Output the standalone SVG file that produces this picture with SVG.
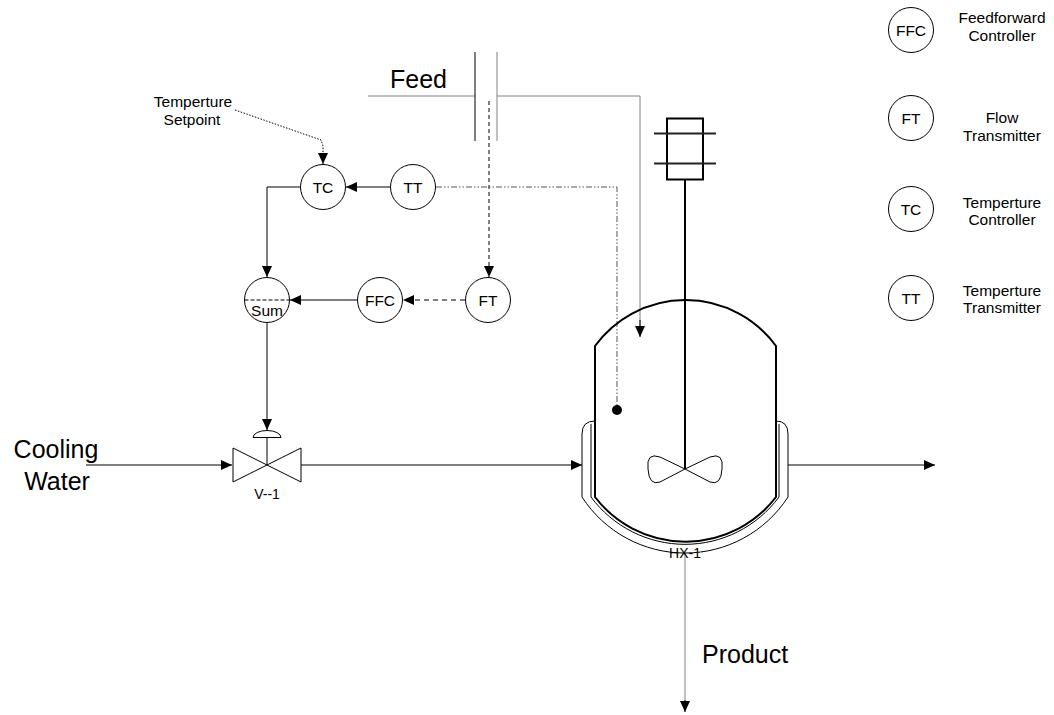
<svg xmlns="http://www.w3.org/2000/svg" width="1054" height="715" viewBox="0 0 1054 715">
<defs>
<marker id="ah" markerUnits="userSpaceOnUse" markerWidth="12" markerHeight="10" refX="11" refY="5" orient="auto">
<path d="M0,0 L11,5 L0,10 Z" fill="#000"/>
</marker>
<style>
text{font-family:"Liberation Sans",Arial,sans-serif;fill:#000}
.lbl{font-size:15.5px;text-anchor:middle}
.big{font-size:25px}
.inst{fill:#fff;stroke:#000;stroke-width:1}
.ln{fill:none;stroke:#000;stroke-width:1}
.gray{fill:none;stroke:#808080;stroke-width:1}
.thick{fill:none;stroke:#000;stroke-width:2}
</style>
</defs>
<rect width="1054" height="715" fill="#fff"/>

<g id="connectors">
<!-- Feed pipe -->
<line class="gray" x1="368" y1="96" x2="475" y2="96"/>
<line class="ln" x1="475" y1="52" x2="475" y2="141"/>
<line class="gray" x1="497" y1="52" x2="497" y2="141"/>
<polyline class="gray" points="497,96 640,96 640,326"/>
<line class="ln" x1="640" y1="320" x2="640" y2="337" marker-end="url(#ah)"/>
<!-- Feed flow dashed signal to FT -->
<line class="ln" x1="489" y1="101" x2="489" y2="277" stroke-dasharray="4,3" marker-end="url(#ah)"/>
<!-- FT to FFC -->
<line class="ln" x1="465" y1="300" x2="403" y2="300" stroke-dasharray="5,4" marker-end="url(#ah)"/>
<!-- FFC to Sum -->
<line class="ln" x1="357" y1="300" x2="290" y2="300" marker-end="url(#ah)"/>
<!-- TT to TC -->
<line class="ln" x1="390" y1="187" x2="346" y2="187" marker-end="url(#ah)"/>
<!-- TC to Sum -->
<polyline class="ln" points="300,187 267,187 267,277" marker-end="url(#ah)"/>
<!-- Sum to valve -->
<line class="ln" x1="267" y1="323" x2="267" y2="430" marker-end="url(#ah)"/>
<!-- Setpoint dotted -->
<polyline class="ln" points="235,110 321,140 323,146 323,164" stroke-dasharray="1.5,1.5" marker-end="url(#ah)"/>
<!-- TT dash-dot to reactor -->
<polyline fill="none" stroke="#555" stroke-width="1" points="436,187 617,187 617,410" stroke-dasharray="6,2,1.5,2,1.5,2"/>
<circle cx="617" cy="410" r="5" fill="#000"/>
<!-- Cooling water in -->
<line class="ln" x1="86" y1="465" x2="232" y2="465" marker-end="url(#ah)"/>
<!-- valve to jacket -->
<line class="ln" x1="301" y1="465" x2="582" y2="465" marker-end="url(#ah)"/>
<!-- jacket out -->
<line class="ln" x1="788" y1="465" x2="935" y2="465" marker-end="url(#ah)"/>
<!-- product -->
<line class="gray" x1="685" y1="553" x2="685" y2="705"/>
<line class="ln" x1="685" y1="700" x2="685" y2="712" marker-end="url(#ah)"/>
</g>

<g id="TC">
<circle class="inst" cx="323" cy="187" r="22.5"/>
<text class="lbl" x="323" y="192.5">TC</text>
</g>
<g id="TT">
<circle class="inst" cx="413" cy="187" r="22.5"/>
<text class="lbl" x="413" y="192.5">TT</text>
</g>
<g id="Sum">
<circle class="inst" cx="267" cy="300" r="22.5"/>
<line class="ln" x1="244.5" y1="300" x2="289.5" y2="300" stroke-dasharray="4,2"/>
<text class="lbl" x="267" y="316">Sum</text>
</g>
<g id="FFC">
<circle class="inst" cx="380" cy="300" r="22.5"/>
<text class="lbl" x="380" y="305.5">FFC</text>
</g>
<g id="FT">
<circle class="inst" cx="488" cy="300" r="22.5"/>
<text class="lbl" x="488" y="305.5">FT</text>
</g>

<g id="setpoint">
<text class="lbl" x="193" y="107">Temperture</text>
<text class="lbl" x="192" y="125">Setpoint</text>
</g>

<g id="feed-label">
<text class="big" x="390" y="88">Feed</text>
</g>

<g id="cooling-label">
<text class="big" x="56" y="458" text-anchor="middle">Cooling</text>
<text class="big" x="57" y="490" text-anchor="middle">Water</text>
</g>

<g id="valve">
<path class="ln" d="M233,448 L233,482 L301,448 L301,482 Z" fill="#fff"/>
<path class="ln" d="M253,437.5 A14,7 0 0 1 281,437.5 Z" fill="#fff"/>
<line class="ln" x1="267" y1="437.5" x2="267" y2="465"/>
<text x="267" y="499" font-size="14" text-anchor="middle">V--1</text>
</g>

<g id="reactor">
<!-- jacket -->
<path class="ln" d="M595,421 Q582,421 582,434 L582,497 A122.7,122.7 0 0 0 788,497 L788,434 Q788,421 776,421"/>
<path fill="none" stroke="#000" stroke-width="1" d="M591,424 L591,497 A117,117 0 0 0 779,497 L779,424"/>
<!-- vessel -->
<path class="thick" d="M595,346 L595,497 A114,114 0 0 0 776,497 L776,346 A112,112 0 0 0 595,346 Z"/>
<!-- agitator -->
<rect x="667" y="118.5" width="36" height="61" fill="#fff" stroke="#000" stroke-width="2"/>
<line x1="654" y1="133.5" x2="716" y2="133.5" stroke="#222" stroke-width="2"/>
<line x1="654" y1="163.5" x2="716" y2="163.5" stroke="#222" stroke-width="2"/>
<line class="thick" x1="685" y1="179.5" x2="685" y2="469"/>
<path class="ln" stroke-width="1.5" d="M685,469 L660,457 Q646,452 648,469 Q649,486 660,482 Z M685,469 L710,457 Q724,452 722,469 Q721,486 710,482 Z"/>
<text x="685" y="558" font-size="14" text-anchor="middle" fill="#333">HX-1</text>
</g>

<g id="product-label">
<text class="big" x="702" y="663">Product</text>
</g>

<g id="legend">
<g id="legend-FFC">
<circle class="inst" cx="911" cy="30" r="22.5"/>
<text class="lbl" x="911" y="35.5">FFC</text>
<text class="lbl" x="1002" y="23">Feedforward</text>
<text class="lbl" x="1002" y="41">Controller</text>
</g>
<g id="legend-FT">
<circle class="inst" cx="911" cy="118" r="22.5"/>
<text class="lbl" x="911" y="123.5">FT</text>
<text class="lbl" x="1002" y="123">Flow</text>
<text class="lbl" x="1002" y="141">Transmitter</text>
</g>
<g id="legend-TC">
<circle class="inst" cx="911" cy="209" r="22.5"/>
<text class="lbl" x="911" y="214.5">TC</text>
<text class="lbl" x="1002" y="208">Temperture</text>
<text class="lbl" x="1002" y="225">Controller</text>
</g>
<g id="legend-TT">
<circle class="inst" cx="911" cy="298" r="22.5"/>
<text class="lbl" x="911" y="303.5">TT</text>
<text class="lbl" x="1002" y="296">Temperture</text>
<text class="lbl" x="1002" y="313">Transmitter</text>
</g>
</g>
</svg>
